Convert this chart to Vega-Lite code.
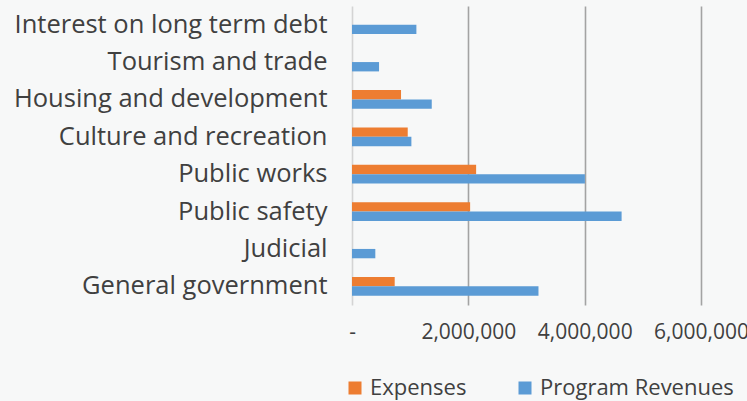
{
  "$schema": "https://vega.github.io/schema/vega-lite/v6.json",
  "width": 349,
  "height": 299,
  "autosize": {"type": "none"},
  "padding": {"left": 352, "top": 6, "right": 46, "bottom": 96},
  "background": "#f7f8f8",
  "config": {
    "view": {"stroke": null},
    "font": "Open Sans",
    "axis": {"labelColor": "#404040", "domain": false, "ticks": false}
  },
  "data": {
    "values": [
      {"category": "Interest on long term debt", "series": "Expenses", "amount": 0},
      {"category": "Interest on long term debt", "series": "Program Revenues", "amount": 1107000},
      {"category": "Tourism and trade", "series": "Expenses", "amount": 0},
      {"category": "Tourism and trade", "series": "Program Revenues", "amount": 465000},
      {"category": "Housing and development", "series": "Expenses", "amount": 843000},
      {"category": "Housing and development", "series": "Program Revenues", "amount": 1371000},
      {"category": "Culture and recreation", "series": "Expenses", "amount": 958000},
      {"category": "Culture and recreation", "series": "Program Revenues", "amount": 1021000},
      {"category": "Public works", "series": "Expenses", "amount": 2134000},
      {"category": "Public works", "series": "Program Revenues", "amount": 4004000},
      {"category": "Public safety", "series": "Expenses", "amount": 2031000},
      {"category": "Public safety", "series": "Program Revenues", "amount": 4635000},
      {"category": "Judicial", "series": "Expenses", "amount": 0},
      {"category": "Judicial", "series": "Program Revenues", "amount": 401000},
      {"category": "General government", "series": "Expenses", "amount": 734000},
      {"category": "General government", "series": "Program Revenues", "amount": 3206000}
    ]
  },
  "mark": {"type": "bar"},
  "encoding": {
    "y": {
      "field": "category",
      "type": "nominal",
      "sort": null,
      "scale": {"paddingInner": 0.5, "paddingOuter": 0.25},
      "axis": {"title": null, "labelFontSize": 25.5, "labelPadding": 25, "labelLimit": 400, "grid": false}
    },
    "yOffset": {"field": "series", "type": "nominal", "sort": ["Expenses", "Program Revenues"]},
    "x": {
      "field": "amount",
      "type": "quantitative",
      "scale": {"domain": [0, 6000000], "nice": false},
      "axis": {
        "title": null,
        "values": [0, 2000000, 4000000, 6000000],
        "labelExpr": "datum.value === 0 ? '-' : format(datum.value, ',')",
        "labelFontSize": 21,
        "labelPadding": 16,
        "labelFlush": false,
        "grid": true,
        "gridWidth": 1.6,
        "gridColor": {"condition": {"test": "datum.value === 0", "value": "#d4d4d4"}, "value": "#a3a3a3"}
      }
    },
    "color": {
      "field": "series",
      "type": "nominal",
      "scale": {"domain": ["Expenses", "Program Revenues"], "range": ["#ED7D31", "#5B9BD5"]},
      "legend": {
        "title": null,
        "orient": "none",
        "direction": "horizontal",
        "legendX": -8,
        "legendY": 371,
        "symbolType": "square",
        "symbolSize": 169,
        "symbolStrokeWidth": 0,
        "symbolOpacity": 1,
        "labelFontSize": 22,
        "labelColor": "#404040",
        "labelOffset": 4,
        "labelLimit": 300,
        "columnPadding": 47
      }
    }
  }
}
